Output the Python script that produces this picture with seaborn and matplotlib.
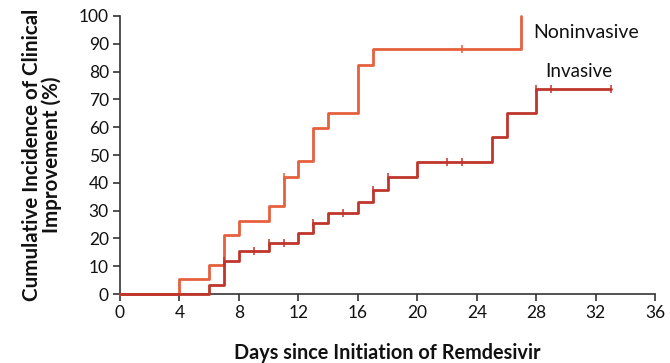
import numpy as np
import pandas as pd
import matplotlib
matplotlib.use("Agg")
import matplotlib.pyplot as plt
import seaborn as sns

# Data
nonin_days = [0, 4, 6, 7, 8, 10, 11, 12, 13, 14, 16, 17, 27]
nonin_inc = [0, 5.3, 10.5, 21.1, 26.3, 31.6, 42.1, 47.7, 59.6, 65.2, 82.5, 88.1, 100]
nonin_censor_days = [11, 23]

inv_days = [0, 6, 7, 8, 10, 12, 13, 14, 16, 17, 18, 20, 25, 26, 28, 33]
inv_inc = [0, 3.2, 11.9, 15.3, 18.5, 21.8, 25.5, 29.0, 33.2, 37.4, 42.2, 47.4, 56.3, 65.0, 73.6, 73.6]
inv_censor_days = [7, 9, 10, 11, 13, 15, 17, 18, 22, 23, 28, 29, 33]

x_ticks = list(range(0, 37, 4))
y_ticks = list(range(0, 101, 10))

sns.set_theme(style="ticks")
plt.rcParams["font.family"] = ["Lato", "DejaVu Sans"]

def step_value(days, inc, t):
    idx = np.searchsorted(days, t, side="right") - 1
    return inc[idx]

c_non = "#E5603D"
c_inv = "#C0352B"

fig = plt.figure(figsize=(6.7, 3.63), dpi=100)
ax = fig.add_axes([0.179, 0.19, 0.799, 0.766])

df_non = pd.DataFrame({"day": nonin_days, "inc": nonin_inc})
df_inv = pd.DataFrame({"day": inv_days, "inc": inv_inc})

sns.lineplot(data=df_non, x="day", y="inc", drawstyle="steps-post", color=c_non,
             linewidth=2.0, ax=ax, clip_on=False, zorder=3)
sns.lineplot(data=df_inv, x="day", y="inc", drawstyle="steps-post", color=c_inv,
             linewidth=2.0, ax=ax, clip_on=False, zorder=4)

cn = pd.DataFrame({"day": nonin_censor_days,
                   "inc": [step_value(nonin_days, nonin_inc, t) for t in nonin_censor_days]})
ci = pd.DataFrame({"day": inv_censor_days,
                   "inc": [step_value(inv_days, inv_inc, t) for t in inv_censor_days]})
sns.scatterplot(data=cn, x="day", y="inc", marker="|", s=36, linewidth=1.1,
                color=c_non, ax=ax, clip_on=False, zorder=5)
sns.scatterplot(data=ci, x="day", y="inc", marker="|", s=36, linewidth=1.1,
                color=c_inv, ax=ax, clip_on=False, zorder=5)

ax.set_xlim(0, 36)
ax.set_ylim(0, 100)
ax.set_xticks(x_ticks)
ax.set_yticks(y_ticks)
ax.tick_params(axis="both", labelsize=12.5, length=5, width=1.2, color="#333333",
               labelcolor="#111111", pad=3)
for s in ["left", "bottom"]:
    ax.spines[s].set_linewidth(1.2)
    ax.spines[s].set_color("#333333")
sns.despine(ax=ax)

ax.set_xlabel("Days since Initiation of Remdesivir", fontsize=14.3, fontweight="bold",
              labelpad=16, color="#111111")
ax.set_ylabel("Cumulative Incidence of Clinical\nImprovement (%)", fontsize=14.8,
              fontweight="bold", labelpad=12, color="#111111", linespacing=1.0)

ax.text(27.8, 94.2, "Noninvasive", fontsize=14, va="center", ha="left", color="#111111")
ax.text(28.6, 80.0, "Invasive", fontsize=13.5, va="center", ha="left", color="#111111")

fig.savefig("out.png", dpi=100)
